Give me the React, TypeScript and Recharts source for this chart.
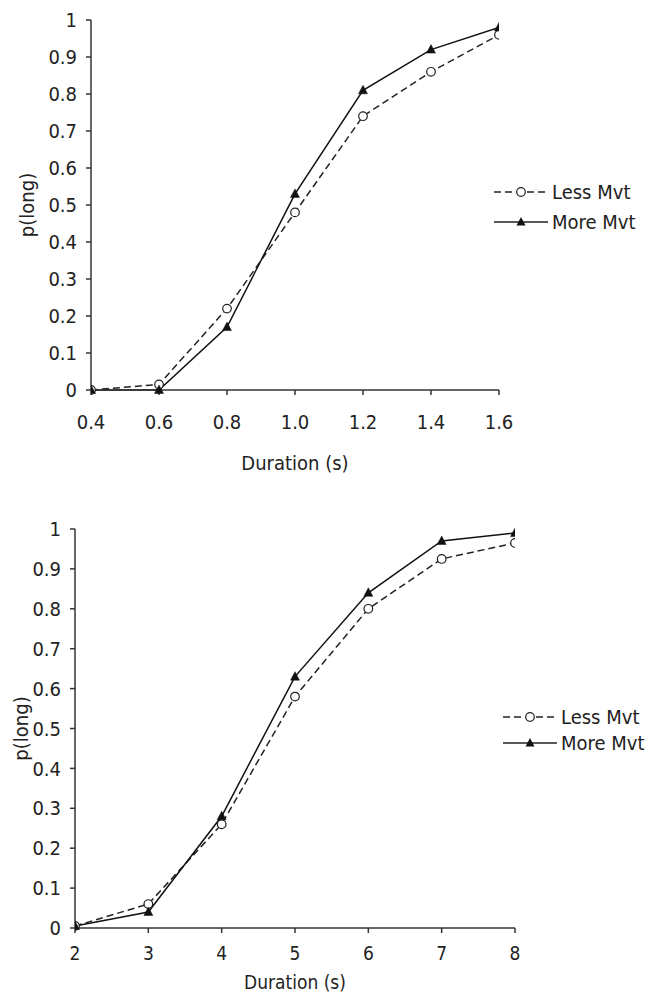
import React from "react";
import { LineChart, Line, XAxis, YAxis, Label } from "recharts";

// durations (s) and p(long) for the two movement conditions
const topDurations = [0.4, 0.6, 0.8, 1.0, 1.2, 1.4, 1.6];
const topLessMvt = [0, 0.015, 0.22, 0.48, 0.74, 0.86, 0.96];
const topMoreMvt = [0, 0, 0.17, 0.53, 0.81, 0.92, 0.98];

const bottomDurations = [2, 3, 4, 5, 6, 7, 8];
const bottomLessMvt = [0.005, 0.06, 0.26, 0.58, 0.8, 0.925, 0.965];
const bottomMoreMvt = [0.005, 0.04, 0.28, 0.63, 0.84, 0.97, 0.99];

const yTicks = [0, 0.1, 0.2, 0.3, 0.4, 0.5, 0.6, 0.7, 0.8, 0.9, 1];
const seriesNames = ["Less Mvt", "More Mvt"];

const FONT = "'DejaVu Sans Condensed', 'DejaVu Sans', sans-serif";
const INK = "#222";

function OpenCircle(props: any) {
  const { cx, cy, index } = props;
  if (cx == null || cy == null) return <g key={"c" + index} />;
  return <circle key={"c" + index} cx={cx} cy={cy} r={4.3} fill="#fff" stroke={INK} strokeWidth={1.2} />;
}

function Triangle(props: any) {
  const { cx, cy, index } = props;
  if (cx == null || cy == null) return <g key={"t" + index} />;
  const pts = `${cx},${cy - 5} ${cx - 4.5},${cy + 3.5} ${cx + 4.5},${cy + 3.5}`;
  return <polygon key={"t" + index} points={pts} fill="#111" stroke="#111" strokeWidth={0.5} />;
}

function LegendBox({ left, top, gap }: { left: number; top: number; gap: number }) {
  return (
    <div style={{ position: "absolute", left, top, fontFamily: FONT, fontSize: 20, color: INK }}>
      {seriesNames.map((name, i) => (
        <div key={name} style={{ display: "flex", alignItems: "center", height: gap }}>
          <svg width={58} height={20}>
            <line x1={1} y1={10} x2={55} y2={10} stroke={INK} strokeWidth={1.5} strokeDasharray={i === 0 ? "7 4" : undefined} />
            {i === 0 ? (
              <circle cx={28} cy={10} r={4.3} fill="#fff" stroke={INK} strokeWidth={1.2} />
            ) : (
              <polygon points="28,5 23.5,13.5 32.5,13.5" fill="#111" />
            )}
          </svg>
          <span style={{ marginLeft: 1, lineHeight: "20px" }}>{name}</span>
        </div>
      ))}
    </div>
  );
}

type PanelProps = {
  top: number;
  height: number;
  durations: number[];
  less: number[];
  more: number[];
  xFormat: (v: number) => string;
  plotLeft: number;
  plotRight: number;
  plotTop: number;
  plotBottom: number;
  xTickMargin: number;
  xLabelOffset: number;
  xFontSize: number;
  yLabelX: number;
};

function Panel(p: PanelProps) {
  const data = p.durations.map((d, i) => ({ d, less: p.less[i], more: p.more[i] }));
  const xAxisHeight = p.height - p.plotBottom;
  const tickStyle = { fontFamily: FONT, fontSize: 20, fill: INK };
  return (
    <div style={{ position: "absolute", left: 0, top: p.top }}>
      <LineChart
        width={650}
        height={p.height}
        data={data}
        margin={{ top: p.plotTop, right: 650 - p.plotRight, bottom: 0, left: 0 }}
      >
        <XAxis
          dataKey="d"
          type="number"
          domain={[p.durations[0], p.durations[p.durations.length - 1]]}
          ticks={p.durations}
          tickFormatter={p.xFormat}
          height={xAxisHeight}
          stroke="#333"
          strokeWidth={1.5}
          tickSize={5}
          tickMargin={p.xTickMargin}
          tick={{ ...tickStyle, fontSize: p.xFontSize }}
          allowDataOverflow
        >
          <Label
            value="Duration (s)"
            position="insideBottom"
            offset={p.xLabelOffset}
            style={{ fontFamily: FONT, fontSize: p.xFontSize, fill: INK }}
          />
        </XAxis>
        <YAxis
          type="number"
          domain={[0, 1]}
          ticks={yTicks}
          tickFormatter={(v: number) => String(v)}
          width={p.plotLeft}
          stroke="#333"
          strokeWidth={1.5}
          tickSize={5}
          tickMargin={9}
          tick={tickStyle}
        >
          <Label
            value="p(long)"
            angle={-90}
            position="insideLeft"
            offset={p.yLabelX}
            style={{ fontFamily: FONT, fontSize: 20, fill: INK, textAnchor: "middle" }}
          />
        </YAxis>
        <Line
          dataKey="less"
          name={seriesNames[0]}
          stroke={INK}
          strokeWidth={1.5}
          strokeDasharray="7 4"
          dot={(props: any) => <OpenCircle {...props} />}
          isAnimationActive={false}
        />
        <Line
          dataKey="more"
          name={seriesNames[1]}
          stroke="#111"
          strokeWidth={1.5}
          dot={(props: any) => <Triangle {...props} />}
          isAnimationActive={false}
        />
      </LineChart>
    </div>
  );
}

export default function App() {
  return (
    <div style={{ position: "absolute", left: 0, top: 0, width: 650, height: 992, background: "#fff" }}>
      <Panel
        top={0}
        height={480}
        durations={topDurations}
        less={topLessMvt}
        more={topMoreMvt}
        xFormat={(v) => v.toFixed(1)}
        plotLeft={91}
        plotRight={499}
        plotTop={20}
        plotBottom={390}
        xTickMargin={20}
        xLabelOffset={10}
        xFontSize={20}
        yLabelX={27}
      />
      <LegendBox left={493} top={177} gap={30} />
      <Panel
        top={500}
        height={492}
        durations={bottomDurations}
        less={bottomLessMvt}
        more={bottomMoreMvt}
        xFormat={(v) => String(v)}
        plotLeft={75}
        plotRight={515}
        plotTop={29}
        plotBottom={428}
        xTickMargin={14}
        xLabelOffset={3}
        xFontSize={19}
        yLabelX={21}
      />
      <LegendBox left={502} top={704} gap={26} />
    </div>
  );
}
